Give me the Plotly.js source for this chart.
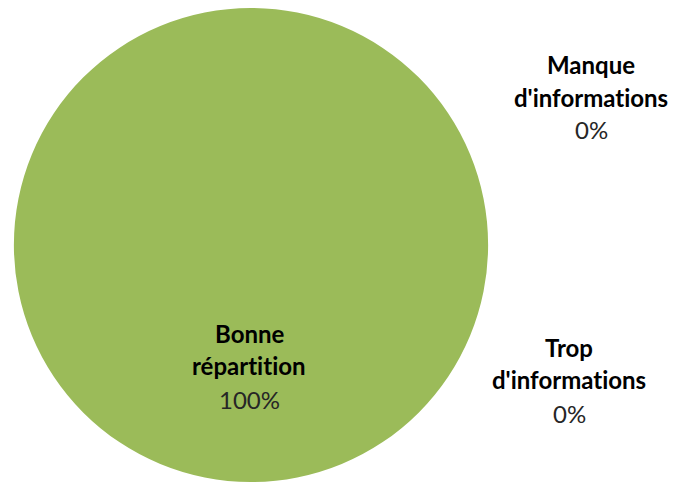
<!DOCTYPE html>
<html>
<head>
<meta charset="utf-8">
<script src="https://cdn.plot.ly/plotly-3.0.1.min.js"></script>
<style>
html,body{margin:0;padding:0;background:#fff;}
#chart{width:676px;height:482px;}
text{font-variant-ligatures:none;font-feature-settings:"liga" 0,"clig" 0;}
</style>
</head>
<body>
<div id="chart"></div>
<script>
var categories = ["Manque d'informations", "Bonne répartition", "Trop d'informations"];
var values = [0, 100, 0];
var sliceColors = ["#4F81BD", "#9BBB59", "#C0504D"];

// label anchor positions in pixels (layout only)
var labelPos = [
  {x: 591, y: [65, 98, 130]},
  {x: 249, y: [333, 365, 399]},
  {x: 569, y: [347, 379, 413]}
];

var W = 676, H = 482;
var total = values.reduce(function(a, b){ return a + b; }, 0);
var annotations = [];
categories.forEach(function(cat, i){
  var words = cat.split(" ");
  var lines = words.map(function(w){ return "<b>" + w + "</b>"; });
  lines.push(Math.round(values[i] / total * 100) + "%");
  lines.forEach(function(t, j){
    annotations.push({
      xref: "paper", yref: "paper",
      x: labelPos[i].x / W, y: 1 - labelPos[i].y[j] / H,
      xanchor: "center", yanchor: "middle",
      text: t, showarrow: false,
      font: {family: "Lato, sans-serif", size: 24, color: j < words.length ? "#000000" : "#262626"}
    });
  });
});

var trace = {
  type: "pie",
  labels: categories,
  values: values,
  sort: false,
  direction: "clockwise",
  rotation: 0,
  textinfo: "none",
  hoverinfo: "label+percent",
  marker: {colors: sliceColors, line: {width: 0}},
  domain: {x: [12 / W, 490 / W], y: [0, 1 - 8 / H]},
  showlegend: false
};

var layout = {
  width: W, height: H,
  margin: {l: 0, r: 0, t: 0, b: 0},
  paper_bgcolor: "#ffffff",
  showlegend: false,
  annotations: annotations
};

Plotly.newPlot("chart", [trace], layout, {displayModeBar: false, staticPlot: true});
</script>
</body>
</html>
